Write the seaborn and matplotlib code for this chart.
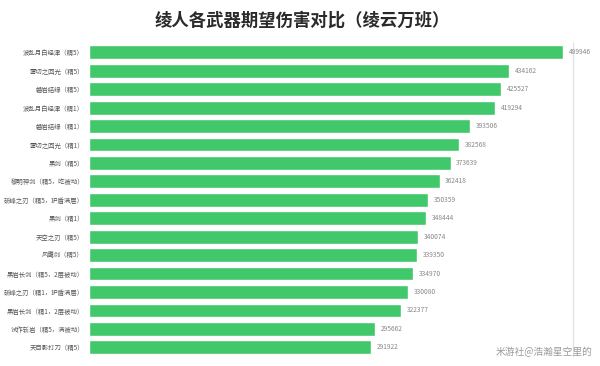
import matplotlib
matplotlib.use("Agg")
import matplotlib.pyplot as plt
import seaborn as sns
import pandas as pd

weapons = [
    "波乱月白经津（精5）",
    "雾切之回光（精5）",
    "磐岩结绿（精5）",
    "波乱月白经津（精1）",
    "磐岩结绿（精1）",
    "雾切之回光（精1）",
    "黑剑（精5）",
    "黎明神剑（精5，吃被动）",
    "斫峰之刃（精5，护盾满层）",
    "黑剑（精1）",
    "天空之刃（精5）",
    "风鹰剑（精5）",
    "黑岩长剑（精5，2层被动）",
    "斫峰之刃（精1，护盾满层）",
    "黑岩长剑（精1，2层被动）",
    "试作斩岩（精5，满被动）",
    "天目影打刀（精5）",
]
damage = [489946, 434162, 425527, 419294, 393506, 382568, 373639, 362418,
          350359, 348444, 340074, 339350, 334970, 330080, 322377, 295662, 291922]
x_max = 500000

title = "绫人各武器期望伤害对比（绫云万班）"
watermark = "米游社@浩瀚星空里的"

sns.set_theme(style="white")
plt.rcParams['font.family'] = ['Noto Sans CJK SC', 'DejaVu Sans']

df = pd.DataFrame({"weapon": weapons, "damage": damage})

fig = plt.figure(figsize=(6, 3.66), dpi=100)
ax = fig.add_axes([0.148, 0.026, 0.807, 0.856])
sns.barplot(data=df, x="damage", y="weapon", orient="h", color="#41c86a",
            saturation=1, width=0.75, ax=ax, zorder=2)

ax.set_xlim(0, x_max)
ax.set_xticks([])
ax.axvline(x_max, color="#e2e2e2", linewidth=0.9, clip_on=False, zorder=0)
ax.set_xlabel("")
ax.set_ylabel("")
ax.tick_params(axis="y", length=0, pad=3.5, labelsize=4.6, labelcolor="#555555")
for s in ax.spines.values():
    s.set_visible(False)

for cont in ax.containers:
    ax.bar_label(cont, labels=[str(v) for v in damage], padding=4,
                 fontsize=4.8, color="#888888")

fig.text(0.503, 0.945, title, ha="center", va="center", fontsize=12.5,
         fontweight="bold", color="#2a2a2a")
fig.text(0.988, 0.038, watermark, ha="right", va="center", fontsize=7,
         color="#9a9a9a")

fig.savefig("out.png", dpi=100)
